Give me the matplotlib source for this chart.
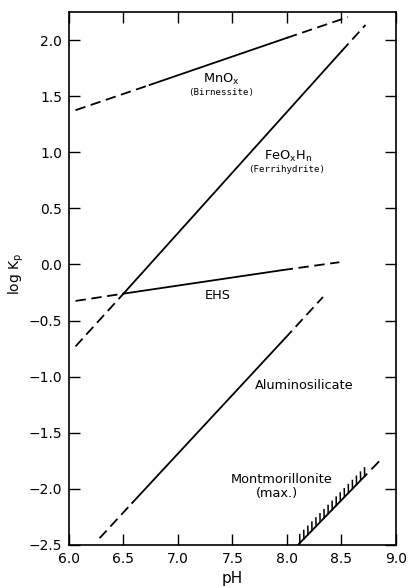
import matplotlib
matplotlib.use("Agg")
import matplotlib.pyplot as plt
import matplotlib.patheffects as pe

plt.rcParams["font.family"] = ["DejaVu Sans"]
plt.rcParams["lines.scale_dashes"] = False

# pH / log Kp: start, dashed->solid, solid->dashed, end
mnox_ph = [6.06, 6.74, 8.00, 8.56]
mnox_logk = [1.375, 1.60, 2.02, 2.205]

feox_ph = [6.06, 6.50, 8.50, 8.72]
feox_logk = [-0.73, -0.26, 1.90, 2.135]

ehs_ph = [6.06, 6.50, 7.96, 8.48]
ehs_logk = [-0.325, -0.26, -0.05, 0.02]

alsi_ph = [6.28, 6.58, 7.98, 8.33]
alsi_logk = [-2.44, -2.125, -0.66, -0.29]

# montmorillonite: hatched part, then one short dash
mont_ph = [8.10, 8.73, 8.78, 8.84]
mont_logk = [-2.50, -1.87, -1.82, -1.76]

x_ticks = [6.0, 6.5, 7.0, 7.5, 8.0, 8.5, 9.0]
y_ticks = [-2.5, -2.0, -1.5, -1.0, -0.5, 0.0, 0.5, 1.0, 1.5, 2.0]

LW = 1.3
DASH = (7.5, 4.0)

fig = plt.figure(figsize=(4.09, 5.86), dpi=100)
ax = fig.add_axes([0.1687, 0.070, 0.7995, 0.9095])


def dibujar_linea(ph, logk):
    ax.plot(ph[0:2], logk[0:2], color="black", lw=LW, dashes=DASH)
    ax.plot(ph[1:3], logk[1:3], color="black", lw=LW)
    ax.plot(ph[2:4], logk[2:4], color="black", lw=LW, dashes=DASH)


for ph, logk in [(mnox_ph, mnox_logk), (feox_ph, feox_logk),
                 (ehs_ph, ehs_logk), (alsi_ph, alsi_logk)]:
    dibujar_linea(ph, logk)

ax.plot(mont_ph[0:2], mont_logk[0:2], color="black", lw=LW,
        path_effects=[pe.withTickedStroke(angle=45, spacing=4.0, length=1.5, linewidth=1.1)])
ax.plot(mont_ph[2:4], mont_logk[2:4], color="black", lw=LW)

# etiquetas
ax.text(7.394, 1.617, r"MnO$_\mathregular{x}$", fontsize=9.3, ha="center", va="baseline")
ax.text(7.399, 1.532, "(Birnessite)", fontsize=6.6, family="DejaVu Sans Mono",
        ha="center", va="center")
ax.text(8.01, 0.93, r"FeO$_\mathregular{x}$H$_\mathregular{n}$", fontsize=9.3,
        ha="center", va="baseline")
ax.text(8.00, 0.85, "(Ferrihydrite)", fontsize=6.6, family="DejaVu Sans Mono",
        ha="center", va="center")
ax.text(7.367, -0.308, "EHS", fontsize=9.3, ha="center", va="baseline")
ax.text(8.16, -1.11, "Aluminosilicate", fontsize=9.3, ha="center", va="baseline")
ax.text(7.95, -1.948, "Montmorillonite", fontsize=9.3, ha="center", va="baseline")
ax.text(7.908, -2.042, "(max.)", fontsize=9.3, ha="center", va="center")

ax.set_xlim(6.0, 9.0)
ax.set_ylim(-2.5, 2.25)
ax.set_xticks(x_ticks)
ax.set_yticks(y_ticks)
ax.set_xticklabels([f"{v:.1f}" for v in x_ticks])
ax.set_yticklabels([f"{v:.1f}".replace("-", "\u2212") for v in y_ticks])
ax.tick_params(direction="in", length=8, width=1.0, top=True, right=True,
               labelsize=10, pad=5)
for lado in ax.spines.values():
    lado.set_linewidth(1.2)

ax.set_xlabel("pH", fontsize=11)
ax.xaxis.set_label_coords(0.5, -0.048)
fig.text(16 / 409, 1 - 274 / 586, r"log K$_\mathregular{p}$", rotation=90,
         fontsize=10, ha="center", va="center")

fig.savefig("out.png", dpi=100)
